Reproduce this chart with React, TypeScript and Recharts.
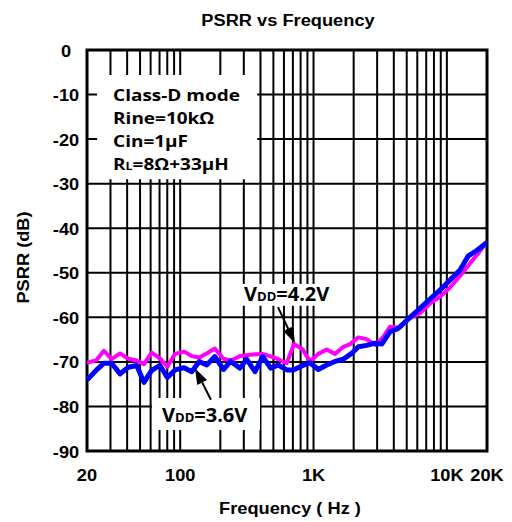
import React from "react";
import {
  LineChart,
  Line,
  XAxis,
  YAxis,
  CartesianGrid,
  ReferenceArea,
  ReferenceLine,
} from "recharts";

// log grid: every 1..9 multiple between 20 Hz and 20 kHz
const FREQ_TICKS = [
  20, 30, 40, 50, 60, 70, 80, 90, 100, 200, 300, 400, 500, 600, 700, 800, 900,
  1000, 2000, 3000, 4000, 5000, 6000, 7000, 8000, 9000, 10000, 20000,
];
const FREQ_LABELS: Record<number, string> = {
  20: "20",
  100: "100",
  1000: "1K",
  10000: "10K",
  20000: "20K",
};
const DB_TICKS = [0, -10, -20, -30, -40, -50, -60, -70, -80, -90];

// VDD = 4.2V
const FREQ_42 = [
  20, 23.6, 26.8, 30.6, 35.4, 40.8, 47.2, 53.5, 61.1, 70.5, 80.1, 91.4, 107,
  122, 139, 158, 182, 211, 239, 281, 334, 416, 472, 544, 629, 714, 830, 941,
  1086, 1255, 1450, 1660, 1880, 2170, 2500, 2890, 3300, 3750, 4320, 5290, 6290,
  7470, 8880, 10560, 12550, 14900, 17200, 20000,
];
const PSRR_42 = [
  -70.2, -69.6, -67.5, -69.4, -68.1, -69.3, -69.7, -70.5, -67.9, -69.2, -71.1,
  -68.2, -67.7, -68.7, -69.0, -68.1, -67.0, -69.3, -69.7, -68.7, -68.4, -68.2,
  -68.7, -69.4, -70.3, -66.0, -67.2, -69.9, -68.2, -67.2, -68.2, -66.7, -66.0,
  -64.5, -64.9, -66.2, -64.6, -62.1, -62.3, -60.2, -59.1, -56.9, -55.4, -53.3,
  -50.7, -47.9, -45.6, -43.0,
];

// VDD = 3.6V
const FREQ_36 = [
  20, 23.6, 26.8, 30.6, 35.4, 40.8, 47.2, 53.5, 61.1, 70.5, 80.1, 91.4, 107,
  122, 139, 158, 182, 211, 239, 281, 315, 364, 416, 477, 544, 629, 705, 816,
  941, 1086, 1255, 1450, 1670, 1930, 2170, 2500, 2890, 3250, 3750, 4320, 5290,
  6290, 7470, 8880, 10560, 12550, 14490, 16750, 20000,
];
const PSRR_36 = [
  -74.1, -71.8, -70.3, -70.3, -72.7, -71.2, -70.8, -74.6, -71.9, -70.8, -73.5,
  -71.8, -71.3, -72.2, -69.9, -70.7, -68.8, -71.7, -69.9, -71.4, -69.4, -72.2,
  -68.8, -71.4, -70.7, -71.8, -71.8, -70.9, -70.2, -71.7, -70.7, -69.9, -69.4,
  -68.1, -66.6, -66.3, -65.8, -66.0, -63.2, -62.5, -60.0, -58.0, -55.9, -53.9,
  -51.6, -49.4, -46.2, -45.0, -43.2,
];

const CONDITIONS = ["Class-D mode", "Rine=10kΩ", "Cin=1μF"];

const series42 = FREQ_42.map((f, i) => ({ f, psrr: PSRR_42[i] }));
const series36 = FREQ_36.map((f, i) => ({ f, psrr: PSRR_36[i] }));

const FONT = "'Liberation Sans', Arial, sans-serif";
const NOTE_FONT = "'Open Sans', 'Noto Sans', sans-serif";
const STRETCH = 1.14;

function XTick({ x, y, payload }: any) {
  const label = FREQ_LABELS[payload.value];
  if (!label) return null;
  return (
    <text
      transform={`translate(${x},${y + 22}) scale(${STRETCH},1)`}
      textAnchor="middle"
      fontFamily={FONT}
      fontWeight="bold"
      fontSize={16}
      fill="#000"
    >
      {label}
    </text>
  );
}

function YTick({ x, y, payload }: any) {
  return (
    <text
      transform={`translate(${x - 13},${y + 6.5}) scale(${STRETCH},1)`}
      textAnchor="middle"
      fontFamily={FONT}
      fontWeight="bold"
      fontSize={16}
      fill="#000"
    >
      {payload.value}
    </text>
  );
}

function XTitle({ viewBox }: any) {
  const cx = viewBox.x + viewBox.width / 2 + 3;
  return (
    <text
      transform={`translate(${cx},${viewBox.y + 63}) scale(${STRETCH},1)`}
      textAnchor="middle"
      fontFamily={FONT}
      fontWeight="bold"
      fontSize={16}
      fill="#000"
    >
      Frequency ( Hz )
    </text>
  );
}

function YTitle({ viewBox }: any) {
  const cy = viewBox.y + viewBox.height / 2 + 7;
  return (
    <text
      transform={`translate(${viewBox.x + 29},${cy}) rotate(-90) scale(${STRETCH},1)`}
      textAnchor="middle"
      fontFamily={FONT}
      fontWeight="bold"
      fontSize={16}
      fill="#000"
    >
      PSRR (dB)
    </text>
  );
}

// test conditions, one text per line, 23px apart
function ConditionsBox({ x, y, width, height }: any) {
  const line = (i: number) => `translate(${x + 16},${y + 26 + i * 23}) scale(1.13,1)`;
  const props = { fontFamily: NOTE_FONT, fontWeight: 700, fontSize: 16.8, fill: "#000" };
  return (
    <g>
      <rect x={x} y={y} width={width} height={height} fill="#fff" />
      {CONDITIONS.map((t, i) => (
        <text key={t} transform={line(i)} {...props}>
          {t}
        </text>
      ))}
      <text transform={line(3)} {...props}>
        R<tspan fontSize={11}>L</tspan>=8Ω+33μH
      </text>
    </g>
  );
}

function VddBox({ x, y, width, height, volts, dx, dy }: any) {
  return (
    <g>
      <rect x={x} y={y} width={width} height={height} fill="#fff" />
      <text
        x={x + dx}
        y={y + dy}
        fontFamily={NOTE_FONT}
        fontWeight={700}
        fontSize={20}
        fill="#000"
      >
        V<tspan fontSize={13}>DD</tspan>={volts}
      </text>
    </g>
  );
}

function Arrow({ x1, y1, x2, y2 }: any) {
  const len = Math.hypot(x2 - x1, y2 - y1);
  const ux = (x2 - x1) / len;
  const uy = (y2 - y1) / len;
  const head = 16;
  const half = 5.5;
  const bx = x2 - ux * head;
  const by = y2 - uy * head;
  const pts = `${x2},${y2} ${bx - uy * half},${by + ux * half} ${bx + uy * half},${by - ux * half}`;
  return (
    <g>
      <line x1={x1} y1={y1} x2={bx} y2={by} stroke="#000" strokeWidth={2} />
      <polygon points={pts} fill="#000" />
    </g>
  );
}

export default function App() {
  return (
    <div style={{ position: "absolute", left: 0, top: 0, width: 512, height: 522, background: "#fff" }}>
      <div
        style={{
          position: "absolute",
          left: 0,
          top: 12,
          width: 576,
          textAlign: "center",
          fontFamily: FONT,
          fontWeight: "bold",
          fontSize: 16,
          lineHeight: "18px",
        }}
      >
        <span style={{ display: "inline-block", transform: `scaleX(${STRETCH})` }}>
          PSRR vs Frequency
        </span>
      </div>
      <LineChart width={512} height={522} margin={{ top: 50, right: 25, left: 0, bottom: 0 }}>
        <CartesianGrid stroke="#000" strokeWidth={2} />
        <XAxis
          dataKey="f"
          type="number"
          scale="log"
          domain={[20, 20000]}
          ticks={FREQ_TICKS}
          interval={0}
          allowDataOverflow
          height={71}
          tickLine={false}
          axisLine={false}
          tick={<XTick />}
          label={(p: any) => <XTitle viewBox={p.viewBox} />}
        />
        <YAxis
          type="number"
          domain={[-90, 0]}
          ticks={DB_TICKS}
          interval={0}
          allowDataOverflow
          width={87}
          tickLine={false}
          axisLine={false}
          tick={<YTick />}
          label={(p: any) => <YTitle viewBox={p.viewBox} />}
        />
        <ReferenceArea
          x1={23.8}
          x2={378}
          y1={-29}
          y2={-5.6}
          shape={(p: any) => <ConditionsBox {...p} />}
        />
        <ReferenceArea
          x1={281}
          x2={1526}
          y1={-57.4}
          y2={-52.5}
          shape={(p: any) => <VddBox {...p} volts="4.2V" dx={4} dy={17} />}
        />
        <ReferenceArea
          x1={61.5}
          x2={397}
          y1={-85.3}
          y2={-78.1}
          shape={(p: any) => <VddBox {...p} volts="3.6V" dx={10} dy={24} />}
        />
        <ReferenceArea
          x1={20}
          x2={20000}
          y1={-90}
          y2={0}
          fill="none"
          stroke="#000"
          strokeWidth={3}
          fillOpacity={1}
        />
        <Line
          data={series42}
          dataKey="psrr"
          stroke="#ff00ff"
          strokeWidth={4}
          dot={false}
          strokeLinejoin="round"
          isAnimationActive={false}
        />
        <Line
          data={series36}
          dataKey="psrr"
          stroke="#0000ff"
          strokeWidth={5}
          dot={false}
          strokeLinejoin="round"
          isAnimationActive={false}
        />
        <ReferenceLine
          segment={[
            { x: 541, y: -57.7 },
            { x: 726, y: -65.8 },
          ]}
          shape={(p: any) => <Arrow {...p} />}
        />
        <ReferenceLine
          segment={[
            { x: 170, y: -78.5 },
            { x: 129, y: -71.4 },
          ]}
          shape={(p: any) => <Arrow {...p} />}
        />
      </LineChart>
    </div>
  );
}
